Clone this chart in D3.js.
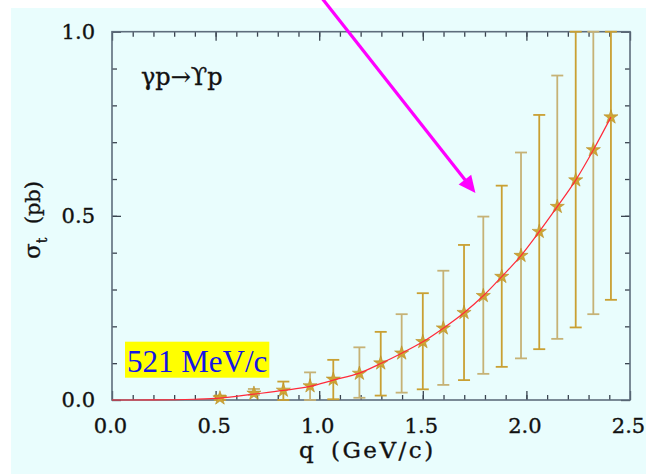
<!DOCTYPE html>
<html>
<head>
<meta charset="utf-8">
<script src="https://cdn.jsdelivr.net/npm/d3@7"></script>
<style>
  body { margin: 0; background: #ffffff; }
  svg { display: block; }
  .serif { font-family: "DejaVu Serif", serif; fill: #111; stroke: #111; stroke-width: 0.35px; }
</style>
</head>
<body>
<script>
var width = 646;
var height = 474;

// data
var q      = [0.521, 0.685, 0.827, 0.956, 1.068, 1.194, 1.297, 1.398, 1.500, 1.599, 1.699, 1.792, 1.881, 1.974, 2.062, 2.149, 2.238, 2.323, 2.408];
var sigma  = [0.005, 0.018, 0.026, 0.038, 0.056, 0.072, 0.100, 0.127, 0.158, 0.195, 0.237, 0.283, 0.335, 0.392, 0.457, 0.525, 0.597, 0.679, 0.768];
var errLow = [0.000, 0.014, 0.000, 0.000, 0.002, 0.006, 0.012, 0.020, 0.029, 0.041, 0.054, 0.071, 0.090, 0.113, 0.138, 0.166, 0.197, 0.233, 0.272];
var errHigh= [0.012, 0.030, 0.050, 0.075, 0.109, 0.143, 0.185, 0.233, 0.290, 0.351, 0.421, 0.498, 0.582, 0.672, 0.774, 0.881, 1.000, 1.000, 1.000];

// fitted curve (starts at origin)
var curveQ     = [0, 0.2, 0.4, 0.521, 0.685, 0.827, 0.956, 1.068, 1.194, 1.297, 1.398, 1.500, 1.599, 1.699, 1.792, 1.881, 1.974, 2.062, 2.149, 2.238, 2.323, 2.408];
var curveSigma = [0, 0.0002, 0.002, 0.005, 0.016, 0.026, 0.037, 0.054, 0.073, 0.099, 0.127, 0.158, 0.195, 0.237, 0.283, 0.335, 0.392, 0.457, 0.525, 0.597, 0.679, 0.768];

var xMajor = [0, 0.5, 1.0, 1.5, 2.0, 2.5];
var xMinor = d3.range(1, 25).map(function (i) { return i / 10; });
var yMajor = [0, 0.5, 1.0];
var yMinor = d3.range(1, 10).map(function (i) { return i / 10; });

var arrowFrom = [1.012, 1.092];
var arrowTo = [1.754, 0.562];

var x = d3.scaleLinear().domain([0, 2.5]).range([112, 630]);
var y = d3.scaleLinear().domain([0, 1]).range([400, 31.7]);

var svg = d3.select("body").append("svg")
  .attr("width", width).attr("height", height);

// background panel
svg.append("rect")
  .attr("x", 11).attr("y", 8)
  .attr("width", width - 11).attr("height", height - 8)
  .style("fill", "#e9fdfd");

// axes (ticks pointing inward)
function fmt(d) { return d3.format(".1f")(d); }

svg.append("g").attr("transform", "translate(0,400)")
  .call(d3.axisBottom(x).tickValues(xMajor).tickSizeInner(-9).tickSizeOuter(0).tickPadding(18).tickFormat(fmt))
  .call(function (g) {
    g.select(".domain").remove();
    g.selectAll("text").attr("class", "serif").attr("dx", -2).style("font-size", "21px");
  });
svg.append("g").attr("transform", "translate(0,400)")
  .call(d3.axisBottom(x).tickValues(xMinor).tickSizeInner(-5).tickSizeOuter(0).tickFormat(""))
  .call(function (g) { g.select(".domain").remove(); });
svg.append("g").attr("transform", "translate(0,31.7)")
  .call(d3.axisTop(x).tickValues(xMajor).tickSizeInner(-9).tickSizeOuter(0).tickFormat(""))
  .call(function (g) { g.select(".domain").remove(); });
svg.append("g").attr("transform", "translate(0,31.7)")
  .call(d3.axisTop(x).tickValues(xMinor).tickSizeInner(-5).tickSizeOuter(0).tickFormat(""))
  .call(function (g) { g.select(".domain").remove(); });

svg.append("g").attr("transform", "translate(112,0)")
  .call(d3.axisLeft(y).tickValues(yMajor).tickSizeInner(-9).tickSizeOuter(0).tickPadding(17).tickFormat(fmt))
  .call(function (g) { g.select(".domain").remove(); g.selectAll("text").attr("class", "serif").style("font-size", "21px"); });
svg.append("g").attr("transform", "translate(112,0)")
  .call(d3.axisLeft(y).tickValues(yMinor).tickSizeInner(-5).tickSizeOuter(0).tickFormat(""))
  .call(function (g) { g.select(".domain").remove(); });
svg.append("g").attr("transform", "translate(630,0)")
  .call(d3.axisRight(y).tickValues(yMajor).tickSizeInner(-9).tickSizeOuter(0).tickFormat(""))
  .call(function (g) { g.select(".domain").remove(); });
svg.append("g").attr("transform", "translate(630,0)")
  .call(d3.axisRight(y).tickValues(yMinor).tickSizeInner(-5).tickSizeOuter(0).tickFormat(""))
  .call(function (g) { g.select(".domain").remove(); });

svg.selectAll(".tick line").style("stroke", "#3a4450").style("stroke-width", 1.3);

// frame
svg.append("rect")
  .attr("x", x(0)).attr("y", y(1))
  .attr("width", x(2.5) - x(0)).attr("height", y(0) - y(1))
  .style("fill", "none").style("stroke", "#5e6d7c").style("stroke-width", 1.6);

// error bars
var idx = d3.range(q.length);
var bars = svg.append("g").selectAll("g").data(idx).enter().append("g")
  .style("stroke", function (i) { return i % 2 === 0 ? "#c9a033" : "#c6b276"; })
  .style("stroke-width", 1.8);
bars.append("line")
  .attr("x1", function (i) { return x(q[i]); }).attr("x2", function (i) { return x(q[i]); })
  .attr("y1", function (i) { return y(errLow[i]); }).attr("y2", function (i) { return y(errHigh[i]); });
bars.append("line")
  .attr("x1", function (i) { return x(q[i]) - 6; }).attr("x2", function (i) { return x(q[i]) + 6; })
  .attr("y1", function (i) { return y(errLow[i]); }).attr("y2", function (i) { return y(errLow[i]); });
bars.append("line")
  .attr("x1", function (i) { return x(q[i]) - 6; }).attr("x2", function (i) { return x(q[i]) + 6; })
  .attr("y1", function (i) { return y(errHigh[i]); }).attr("y2", function (i) { return y(errHigh[i]); });

// stars
svg.append("g").selectAll("path").data(idx).enter().append("path")
  .attr("d", d3.symbol().type(d3.symbolStar).size(62))
  .attr("transform", function (i) { return "translate(" + x(q[i]) + "," + y(sigma[i]) + ")"; })
  .style("fill", "#cfa535")
  .style("stroke", "#b98f25")
  .style("stroke-width", 0.6);

// fit curve
var line = d3.line()
  .x(function (i) { return x(curveQ[i]); })
  .y(function (i) { return y(curveSigma[i]); })
  .curve(d3.curveMonotoneX);
svg.append("path")
  .datum(d3.range(curveQ.length))
  .attr("d", line)
  .style("fill", "none")
  .style("stroke", "#ff2a3a")
  .style("stroke-width", 1.2);

// reaction label
svg.append("text")
  .attr("class", "serif")
  .attr("x", 141).attr("y", 85)
  .style("font-size", "24px")
  .text("\u03B3p\u2192\u03D2p");

// axis titles
svg.append("text")
  .attr("class", "serif")
  .attr("x", 299).attr("y", 458)
  .style("font-size", "23px")
  .text("q");
svg.append("text")
  .attr("class", "serif")
  .attr("x", 331).attr("y", 458)
  .style("font-size", "23px")
  .style("letter-spacing", "2.5px")
  .text("(GeV/c)");

var yt = svg.append("text")
  .attr("class", "serif")
  .attr("transform", "translate(40,220) rotate(-90)")
  .attr("text-anchor", "middle")
  .style("font-size", "21px");
yt.append("tspan").style("font-size", "23px").text("\u03C3");
yt.append("tspan").attr("dy", 7).style("font-size", "14px").text("t");
yt.append("tspan").attr("dy", -7).text("\u00A0\u00A0(pb)");

// momentum box
svg.append("rect")
  .attr("x", 125).attr("y", 341.7).attr("width", 144.3).attr("height", 36)
  .style("fill", "#ffff00");
svg.append("text")
  .attr("x", 127).attr("y", 371.5)
  .style("font-family", "'Liberation Serif', serif")
  .style("font-size", "31px")
  .style("fill", "#1414e6")
  .text("521 MeV/c");

// arrow
var ax0 = x(arrowFrom[0]), ay0 = y(arrowFrom[1]);
var ax1 = x(arrowTo[0]), ay1 = y(arrowTo[1]);
var dx = ax1 - ax0, dy = ay1 - ay0, len = Math.sqrt(dx * dx + dy * dy);
var ux = dx / len, uy = dy / len;
var headL = 17, headW = 8;
var bx = ax1 - headL * ux, by = ay1 - headL * uy;
svg.append("line")
  .attr("x1", ax0).attr("y1", ay0).attr("x2", bx + 2 * ux).attr("y2", by + 2 * uy)
  .style("stroke", "#ff00ff").style("stroke-width", 3.2);
svg.append("path")
  .attr("d", "M" + ax1 + "," + ay1 +
    "L" + (bx - headW * uy) + "," + (by + headW * ux) +
    "L" + (bx + headW * uy) + "," + (by - headW * ux) + "Z")
  .style("fill", "#ff00ff");
</script>
</body>
</html>
